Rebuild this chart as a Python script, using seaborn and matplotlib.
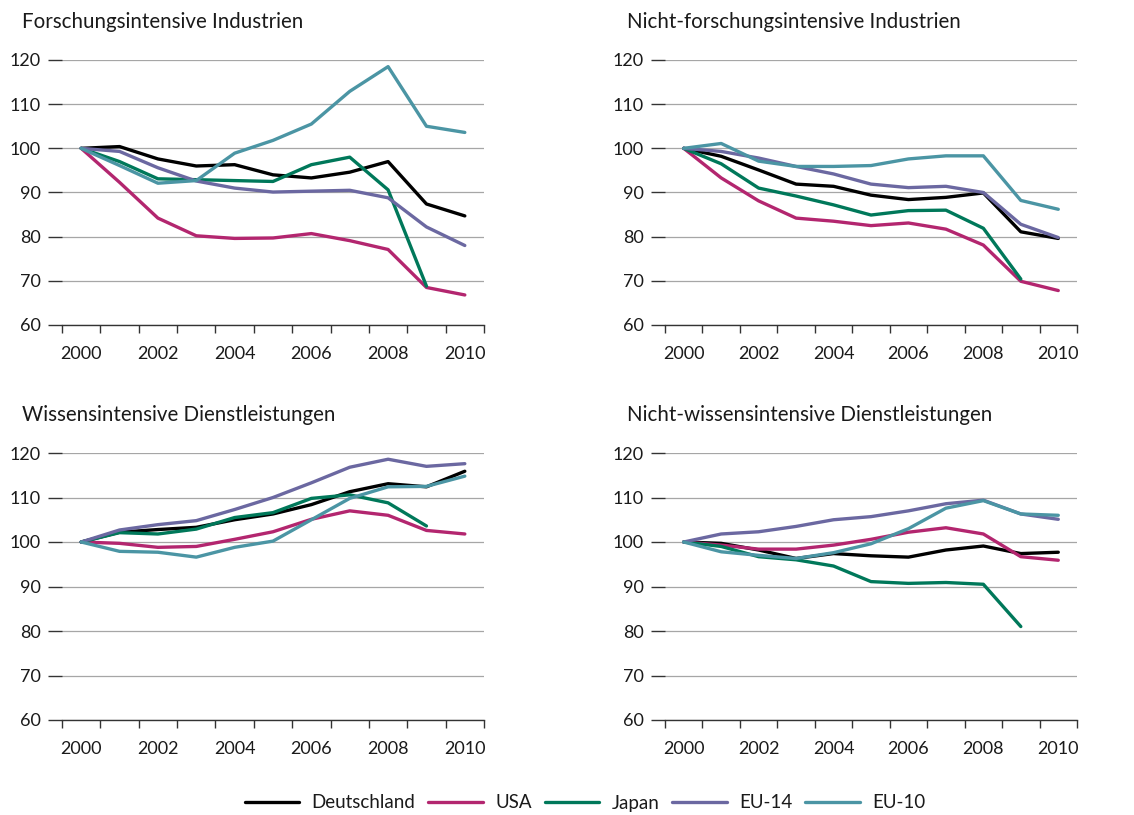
import pandas as pd
import matplotlib
matplotlib.use("Agg")
import matplotlib.pyplot as plt
import seaborn as sns
import numpy as np

# --- Data (index, 2000 = 100) ---
years = [2000, 2001, 2002, 2003, 2004, 2005, 2006, 2007, 2008, 2009, 2010]
countries = ["Deutschland", "USA", "Japan", "EU-14", "EU-10"]
colors = ["#000000", "#b3266f", "#00785a", "#6b68a1", "#4b95a4"]

panel_titles = ["Forschungsintensive Industrien", "Nicht-forschungsintensive Industrien",
                "Wissensintensive Dienstleistungen", "Nicht-wissensintensive Dienstleistungen"]

nan = np.nan

# Forschungsintensive Industrien
fi_de = [100, 100.4, 97.6, 96.0, 96.3, 94.0, 93.3, 94.6, 97.0, 87.4, 84.7]
fi_us = [100, 92.3, 84.2, 80.2, 79.6, 79.7, 80.7, 79.1, 77.1, 68.5, 66.8]
fi_jp = [100, 97.0, 93.1, 92.9, 92.7, 92.5, 96.3, 98.0, 90.6, 68.8, nan]
fi_eu14 = [100, 99.3, 95.6, 92.6, 91.0, 90.1, 90.3, 90.5, 88.8, 82.2, 78.0]
fi_eu10 = [100, 96.1, 92.1, 92.7, 98.9, 101.8, 105.5, 112.9, 118.5, 105.0, 103.6]

# Nicht-forschungsintensive Industrien
nfi_de = [100, 98.2, 95.1, 91.9, 91.4, 89.4, 88.4, 88.9, 89.9, 81.1, 79.6]
nfi_us = [100, 93.3, 88.1, 84.2, 83.5, 82.5, 83.1, 81.7, 78.1, 69.9, 67.8]
nfi_jp = [100, 96.5, 91.0, 89.2, 87.2, 84.9, 85.9, 86.0, 81.9, 70.4, nan]
nfi_eu14 = [100, 99.3, 97.8, 95.9, 94.2, 91.9, 91.1, 91.4, 90.0, 82.8, 79.8]
nfi_eu10 = [100, 101.1, 97.1, 95.9, 95.9, 96.1, 97.6, 98.3, 98.3, 88.2, 86.2]

# Wissensintensive Dienstleistungen
wd_de = [100, 102.2, 102.8, 103.3, 105.0, 106.3, 108.4, 111.3, 113.1, 112.4, 115.9]
wd_us = [100, 99.7, 98.8, 99.0, 100.6, 102.3, 105.1, 107.0, 106.0, 102.6, 101.8]
wd_jp = [100, 102.1, 101.8, 102.9, 105.5, 106.6, 109.8, 110.6, 108.8, 103.6, nan]
wd_eu14 = [100, 102.7, 103.9, 104.8, 107.3, 110.0, 113.3, 116.8, 118.6, 117.0, 117.6]
wd_eu10 = [100, 97.9, 97.7, 96.6, 98.8, 100.2, 105.0, 109.8, 112.4, 112.5, 114.8]

# Nicht-wissensintensive Dienstleistungen
nwd_de = [100, 99.7, 98.2, 96.3, 97.4, 96.9, 96.6, 98.2, 99.1, 97.4, 97.7]
nwd_us = [100, 99.3, 98.4, 98.4, 99.3, 100.6, 102.2, 103.2, 101.8, 96.7, 95.9]
nwd_jp = [100, 99.0, 96.7, 96.0, 94.6, 91.1, 90.7, 90.9, 90.5, 81.0, nan]
nwd_eu14 = [100, 101.8, 102.3, 103.5, 105.0, 105.7, 107.0, 108.6, 109.4, 106.3, 105.1]
nwd_eu10 = [100, 97.8, 97.0, 96.3, 97.6, 99.6, 103.0, 107.6, 109.3, 106.3, 106.0]

panel_data = [
    [fi_de, fi_us, fi_jp, fi_eu14, fi_eu10],
    [nfi_de, nfi_us, nfi_jp, nfi_eu14, nfi_eu10],
    [wd_de, wd_us, wd_jp, wd_eu14, wd_eu10],
    [nwd_de, nwd_us, nwd_jp, nwd_eu14, nwd_eu10],
]

# --- Style ---
sns.set_style("white")
plt.rcParams["font.family"] = ["Lato", "DejaVu Sans"]
plt.rcParams["text.color"] = "#1a1a1a"

W, H = 1134, 815
fig = plt.figure(figsize=(W / 100, H / 100), dpi=100)

# axes boxes in pixels: left, top, right, bottom
boxes = [(62, 60, 484, 325), (665, 60, 1077, 325),
         (62, 453, 484, 720), (665, 453, 1077, 720)]
title_pos = [(22, 22), (627, 22), (22, 415), (627, 415)]

palette = dict(zip(countries, colors))

for i, (l, t, r, b) in enumerate(boxes):
    ax = fig.add_axes([l / W, 1 - b / H, (r - l) / W, (b - t) / H])
    rows = []
    for c, vals in zip(countries, panel_data[i]):
        for y, v in zip(years, vals):
            rows.append({"Jahr": y, "Land": c, "Wert": v})
    df = pd.DataFrame(rows).dropna()
    sns.lineplot(data=df, x="Jahr", y="Wert", hue="Land", hue_order=countries,
                 palette=palette, linewidth=2.4, ax=ax, legend=(i == 0),
                 zorder=3)
    ax.set_xlim(1999.5, 2010.5)
    ax.set_ylim(60, 120)
    ax.set_yticks(range(60, 121, 10))
    ax.set_xticks(range(2000, 2011, 2))
    ax.set_xticks(np.arange(1999.5, 2011, 1), minor=True)
    ax.set_xlabel("")
    ax.set_ylabel("")
    for s in ["top", "right", "left"]:
        ax.spines[s].set_visible(False)
    ax.spines["bottom"].set_color("#333333")
    ax.spines["bottom"].set_linewidth(1.0)
    ax.yaxis.grid(True, color="#a6a6a6", linewidth=0.9, zorder=0)
    ax.tick_params(axis="y", left=True, length=10, width=1.0, color="#333333",
                   pad=5.5, labelsize=13, labelcolor="#1a1a1a")
    ax.tick_params(axis="x", which="major", bottom=True, length=0, pad=15,
                   labelsize=13, labelcolor="#1a1a1a")
    ax.tick_params(axis="x", which="minor", bottom=True, length=6, width=1.0,
                   color="#333333", direction="out")
    fig.text(title_pos[i][0] / W, 1 - title_pos[i][1] / H, panel_titles[i],
             fontsize=14.8, va="center", ha="left")
    if i == 0:
        handles, labels = ax.get_legend_handles_labels()
        ax.get_legend().remove()

fig.legend(handles, labels, loc="center", bbox_to_anchor=(585 / W, 1 - 803 / H),
           ncol=5, frameon=False, fontsize=13.5, handlelength=2.9,
           handletextpad=0.65, columnspacing=0.7)

plt.savefig("out.png", dpi=100)
plt.close()
